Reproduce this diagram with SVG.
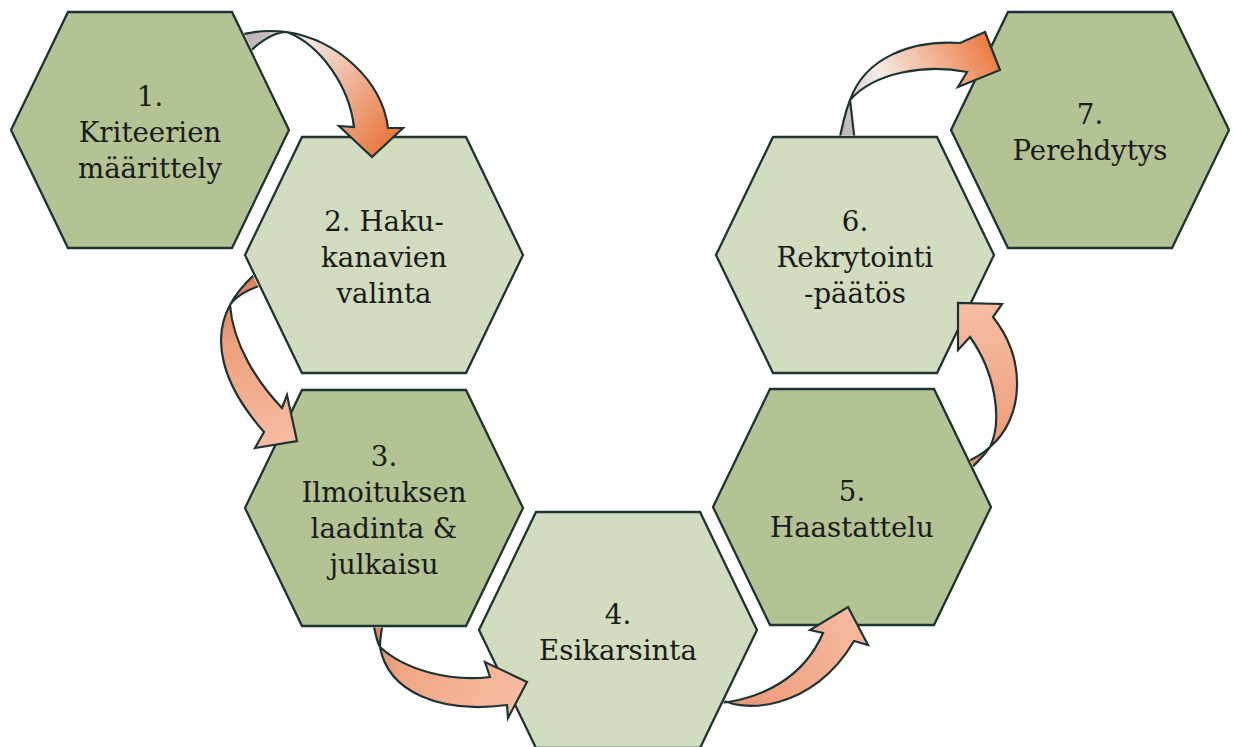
<svg xmlns="http://www.w3.org/2000/svg" xmlns:xlink="http://www.w3.org/1999/xlink" width="1233" height="747" viewBox="0 0 1233 747">
  <style>
    .hex { stroke: #1e3434; stroke-width: 2.3; stroke-linejoin: miter; }
    .dark { fill: #b3c394; }
    .light { fill: #d2dcbf; }
    .arrow { stroke: #1e3434; stroke-width: 2.2; stroke-linejoin: miter; }
    .lbl { font-family: "DejaVu Serif", "Liberation Serif", serif; font-size: 27.6px; fill: #1a1a1a; text-anchor: middle; }
  </style>
  <defs>
    <polygon id="hex" points="-139,0 -82,-118 82,-118 139,0 82,118 -82,118"/>
    <linearGradient id="g1" gradientUnits="userSpaceOnUse" x1="245" y1="35" x2="385" y2="150">
      <stop offset="0" stop-color="#b7aeb3"/><stop offset="0.3" stop-color="#f3e6e0"/><stop offset="1" stop-color="#e9773d"/>
    </linearGradient>
    <linearGradient id="g2" gradientUnits="userSpaceOnUse" x1="250" y1="280" x2="290" y2="445">
      <stop offset="0" stop-color="#d9835e"/><stop offset="0.35" stop-color="#efa07c"/><stop offset="1" stop-color="#f7bda4"/>
    </linearGradient>
    <linearGradient id="g3" gradientUnits="userSpaceOnUse" x1="375" y1="620" x2="525" y2="700">
      <stop offset="0" stop-color="#c98a6e"/><stop offset="0.3" stop-color="#f2a885"/><stop offset="1" stop-color="#f6bca2"/>
    </linearGradient>
    <linearGradient id="g4" gradientUnits="userSpaceOnUse" x1="715" y1="700" x2="860" y2="615">
      <stop offset="0" stop-color="#d88e6d"/><stop offset="0.3" stop-color="#f0a27f"/><stop offset="1" stop-color="#f6bba1"/>
    </linearGradient>
    <linearGradient id="g5" gradientUnits="userSpaceOnUse" x1="965" y1="470" x2="975" y2="305">
      <stop offset="0" stop-color="#d98f6d"/><stop offset="0.3" stop-color="#f0a381"/><stop offset="1" stop-color="#f6bda3"/>
    </linearGradient>
    <linearGradient id="g6" gradientUnits="userSpaceOnUse" x1="845" y1="140" x2="998" y2="55">
      <stop offset="0" stop-color="#b9b4b8"/><stop offset="0.35" stop-color="#f6ede8"/><stop offset="1" stop-color="#ec7a3f"/>
    </linearGradient>
    <!-- each arrow tail is hidden behind the hexagon it leaves -->
    <clipPath id="c1" clipPathUnits="userSpaceOnUse"><path clip-rule="evenodd" d="M0,0H1233V747H0Z M9,130 L67,10.5 L233,10.5 L291,130 L233,249.5 L67,249.5Z"/></clipPath>
    <clipPath id="c2" clipPathUnits="userSpaceOnUse"><path clip-rule="evenodd" d="M0,0H1233V747H0Z M243,255 L301,135.5 L467,135.5 L525,255 L467,374.5 L301,374.5Z"/></clipPath>
    <clipPath id="c3" clipPathUnits="userSpaceOnUse"><path clip-rule="evenodd" d="M0,0H1233V747H0Z M243,508 L301,388.5 L467,388.5 L525,508 L467,627.5 L301,627.5Z"/></clipPath>
    <clipPath id="c4" clipPathUnits="userSpaceOnUse"><path clip-rule="evenodd" d="M0,0H1233V747H0Z M477,630 L535,510.5 L701,510.5 L759,630 L701,749.5 L535,749.5Z"/></clipPath>
    <clipPath id="c5" clipPathUnits="userSpaceOnUse"><path clip-rule="evenodd" d="M0,0H1233V747H0Z M711,507 L769,387.5 L935,387.5 L993,507 L935,626.5 L769,626.5Z"/></clipPath>
    <clipPath id="c6" clipPathUnits="userSpaceOnUse"><path clip-rule="evenodd" d="M0,0H1233V747H0Z M714,255 L772,135.5 L938,135.5 L996,255 L938,374.5 L772,374.5Z"/></clipPath>
  </defs>

  <rect width="1233" height="747" fill="#ffffff"/>

  <g id="step1">
    <use xlink:href="#hex" href="#hex" x="150" y="130" class="hex dark"/>
    <text class="lbl"><tspan x="150" y="106">1.</tspan><tspan x="150" y="142">Kriteerien</tspan><tspan x="150" y="178">määrittely</tspan></text>
  </g>
  <g id="step2">
    <use xlink:href="#hex" href="#hex" x="384" y="255" class="hex light"/>
    <text class="lbl"><tspan x="384" y="231">2. Haku-</tspan><tspan x="384" y="267">kanavien</tspan><tspan x="384" y="303">valinta</tspan></text>
  </g>
  <g id="step3">
    <use xlink:href="#hex" href="#hex" x="384" y="508" class="hex dark"/>
    <text class="lbl"><tspan x="384" y="466">3.</tspan><tspan x="384" y="502">Ilmoituksen</tspan><tspan x="384" y="538">laadinta &amp;</tspan><tspan x="384" y="574">julkaisu</tspan></text>
  </g>
  <g id="step4">
    <use xlink:href="#hex" href="#hex" x="618" y="630" class="hex light"/>
    <text class="lbl"><tspan x="618" y="624">4.</tspan><tspan x="618" y="660">Esikarsinta</tspan></text>
  </g>
  <g id="step5">
    <use xlink:href="#hex" href="#hex" x="852" y="507" class="hex dark"/>
    <text class="lbl"><tspan x="852" y="501">5.</tspan><tspan x="852" y="537">Haastattelu</tspan></text>
  </g>
  <g id="step6">
    <use xlink:href="#hex" href="#hex" x="855" y="255" class="hex light"/>
    <text class="lbl"><tspan x="855" y="231">6.</tspan><tspan x="855" y="267">Rekrytointi</tspan><tspan x="855" y="303">-päätös</tspan></text>
  </g>
  <g id="step7">
    <use xlink:href="#hex" href="#hex" x="1090" y="130" class="hex dark"/>
    <text class="lbl"><tspan x="1090" y="124">7.</tspan><tspan x="1090" y="160">Perehdytys</tspan></text>
  </g>

  <!-- curved block arrows, twisted near the tail -->
  <g id="connectors">
    <path class="arrow" fill="url(#g1)" clip-path="url(#c1)" d="M236,36 C255,30 270,30 287,32 C337,40 382,80 388,128 L403,128 L372,157 L339,126 L354,127 C349,85 320,45 287,32 C272,32 255,45 244,58 Z"/>
    <path class="arrow" fill="url(#g2)" clip-path="url(#c2)" d="M256,273 C243,285 235,295 230,305 C212,338 220,382 264,432 L255,448 L297,441 L287,395 L282,408 C258,383 233,345 230,305 C236,296 250,288 266,284 Z"/>
    <path class="arrow" fill="url(#g3)" clip-path="url(#c3)" d="M372,614 C374,628 376,640 380,647 C388,692 440,714 507,705 L508,718 L527,682 L485,662 L490,677 C450,682 405,670 380,647 C380,637 382,626 385,614 Z"/>
    <path class="arrow" fill="url(#g4)" clip-path="url(#c4)" d="M712,694 C740,717 814,710 854,641 L868,645 L848,607 L810,630 L823,633 C805,675 765,700 712,704 Z"/>
    <path class="arrow" fill="url(#g5)" clip-path="url(#c5)" d="M958,466 C972,460 984,453 990,447 C1024,418 1027,360 993,317 L1002,304 L958,303 L958,350 L970,337 C995,372 1003,420 990,447 C982,458 972,468 962,476 Z"/>
    <path class="arrow" fill="url(#g6)" clip-path="url(#c6)" d="M838,148 C841,130 845,113 850,100 C865,58 910,40 960,43 L985,32 L1000,70 L958,87 L967,72 C925,64 875,72 850,100 C852,115 853,130 856,148 Z"/>
  </g>
</svg>
